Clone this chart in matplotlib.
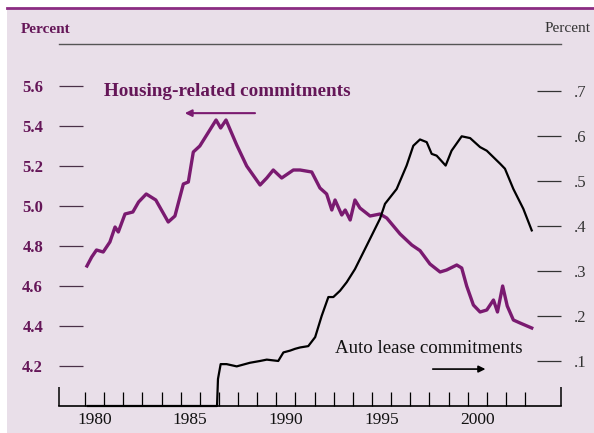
import matplotlib
matplotlib.use("Agg")
import matplotlib.pyplot as plt
from matplotlib.patches import Rectangle

# housing-related commitments (percent, left axis)
h_years = [1980.1, 1980.35, 1980.6, 1980.95, 1981.3, 1981.57, 1981.74, 1982.09, 1982.5,
           1982.8, 1983.2, 1983.7, 1984.35, 1984.7, 1985.14, 1985.4, 1985.66, 1986.0,
           1986.36, 1986.85, 1987.09, 1987.37, 1987.93, 1988.45, 1989.15, 1989.5, 1989.84,
           1990.28, 1990.89, 1991.24, 1991.85, 1992.28, 1992.63, 1992.9, 1993.07, 1993.42,
           1993.6, 1993.86, 1994.11, 1994.37, 1994.9, 1995.42, 1995.77, 1996.47, 1997.08,
           1997.51, 1998.03, 1998.56, 1998.9, 1999.43, 1999.69, 1999.95, 2000.3, 2000.65,
           2001.0, 2001.35, 2001.56, 2001.83, 2002.07, 2002.39, 2002.74, 2003.35]
h_vals = [4.70, 4.745, 4.78, 4.77, 4.82, 4.895, 4.87, 4.96, 4.97,
          5.02, 5.06, 5.03, 4.92, 4.95, 5.11, 5.12, 5.27, 5.30,
          5.355, 5.43, 5.39, 5.43, 5.305, 5.20, 5.105, 5.14, 5.18,
          5.14, 5.18, 5.18, 5.17, 5.09, 5.06, 4.98, 5.03, 4.955,
          4.98, 4.93, 5.03, 4.99, 4.95, 4.96, 4.94, 4.86, 4.805,
          4.777, 4.71, 4.67, 4.68, 4.705, 4.69, 4.60, 4.505, 4.47,
          4.48, 4.53, 4.47, 4.60, 4.50, 4.43, 4.415, 4.39]

# auto lease commitments (percent, right axis)
a_years = [1980.15, 1986.9, 1986.95, 1987.09, 1987.4, 1987.93, 1988.62, 1989.15, 1989.5,
           1990.1, 1990.37, 1990.72, 1990.98, 1991.24, 1991.67, 1992.03, 1992.37, 1992.72,
           1992.98, 1993.33, 1993.68, 1994.11, 1994.72, 1995.42, 1995.68, 1996.29, 1996.81,
           1997.16, 1997.51, 1997.86, 1998.12, 1998.38, 1998.85, 1999.16, 1999.69, 2000.13,
           2000.65, 2001.0, 2001.7, 2001.95, 2002.39, 2002.91, 2003.35]
a_vals = [0.0, 0.0, 0.06, 0.093, 0.093, 0.088, 0.096, 0.10, 0.103,
          0.10, 0.119, 0.123, 0.127, 0.130, 0.133, 0.153, 0.20, 0.242,
          0.242, 0.256, 0.275, 0.304, 0.356, 0.416, 0.449, 0.482, 0.534,
          0.578, 0.592, 0.586, 0.56, 0.556, 0.534, 0.567, 0.599, 0.595,
          0.575, 0.567, 0.538, 0.527, 0.482, 0.438, 0.39]

left_ticks = [4.2, 4.4, 4.6, 4.8, 5.0, 5.2, 5.4, 5.6]
left_labels = ["4.2", "4.4", "4.6", "4.8", "5.0", "5.2", "5.4", "5.6"]
right_ticks = [0.1, 0.2, 0.3, 0.4, 0.5, 0.6, 0.7]
right_labels = [".1", ".2", ".3", ".4", ".5", ".6", ".7"]
year_ticks = list(range(1980, 2004))
year_labels = ["1980", "1985", "1990", "1995", "2000"]

purple = "#7a1a70"
label_purple = "#651658"
bg = "#e9dfe9"
serif = ["Liberation Serif", "DejaVu Serif"]

plt.rcParams["font.family"] = serif

fig = plt.figure(figsize=(5.94, 4.33), dpi=100)
fig.patch.set_facecolor("white")
fig.add_artist(Rectangle((7 / 594, 0), 1, (433 - 8) / 433, transform=fig.transFigure,
                         facecolor=bg, edgecolor="none", zorder=-10))
fig.add_artist(plt.Line2D([7 / 594, 1], [(433 - 8) / 433] * 2, transform=fig.transFigure,
                          color="#8b2c82", lw=2, zorder=-5))

ax = fig.add_axes([59 / 594, 27 / 433, 502 / 594, 362 / 433])
ax.set_facecolor("none")
ax2 = ax.twinx()

ax.plot(h_years, h_vals, color=purple, lw=2.4, zorder=3)
ax2.plot(a_years, a_vals, color="black", lw=1.6, zorder=3, clip_on=False)

ax.set_xlim(1978.64, 2004.88)
ax.set_ylim(4.0, 5.81)
ax2.set_ylim(0, 0.804)

for a in (ax, ax2):
    for s in ("left", "right", "top", "bottom"):
        a.spines[s].set_visible(False)
ax.spines["top"].set_visible(True)
ax.spines["top"].set_color("#555555")
ax.spines["top"].set_linewidth(1.0)
ax.spines["bottom"].set_visible(True)
ax.spines["bottom"].set_color("black")
ax.spines["bottom"].set_linewidth(1.2)

ax.set_yticks(left_ticks)
ax.set_yticklabels(left_labels, fontsize=12, fontweight="bold", color=label_purple)
ax.tick_params(axis="y", direction="in", length=17.3, width=0.9, color="#4a3048", pad=11.5)

ax2.set_yticks(right_ticks)
ax2.set_yticklabels(right_labels, fontsize=12, color="#333333")
ax2.tick_params(axis="y", direction="in", length=17.3, width=0.9, color="#333333", pad=9.4)

ax.set_xticks(year_ticks)
ax.set_xticklabels([])
ax.set_xticks([1978.64, 2004.88], minor=True)
ax.tick_params(axis="x", which="major", direction="in", length=10, width=0.9, color="black")
ax.tick_params(axis="x", which="minor", direction="in", length=13.7, width=1.1, color="black")

for lab in year_labels:
    ax.text(int(lab) + 0.5, -0.04, lab, transform=ax.get_xaxis_transform(),
            ha="center", va="center", fontsize=12.5, color="#111111")

ax.text(0.0896, 0.868, "Housing-related commitments", transform=ax.transAxes,
        ha="left", va="center", fontsize=13.8, fontweight="bold", color=label_purple)
ax.annotate("", xy=(0.245, 0.809), xytext=(0.396, 0.809), xycoords="axes fraction",
            arrowprops=dict(arrowstyle="-|>", color=purple, lw=1.5, mutation_scale=10))

ax.text(0.55, 0.160, "Auto lease commitments", transform=ax.transAxes,
        ha="left", va="center", fontsize=13.6, color="#111111")
ax.annotate("", xy=(0.855, 0.102), xytext=(0.739, 0.102), xycoords="axes fraction",
            arrowprops=dict(arrowstyle="-|>", color="black", lw=1.2, mutation_scale=10))

fig.text(21 / 594, 0.933, "Percent", ha="left", va="center", fontsize=11,
         fontweight="bold", color=label_purple)
fig.text(545 / 594, 0.935, "Percent", ha="left", va="center", fontsize=11, color="#333333")

fig.savefig("out.png", dpi=100, facecolor=fig.get_facecolor())
